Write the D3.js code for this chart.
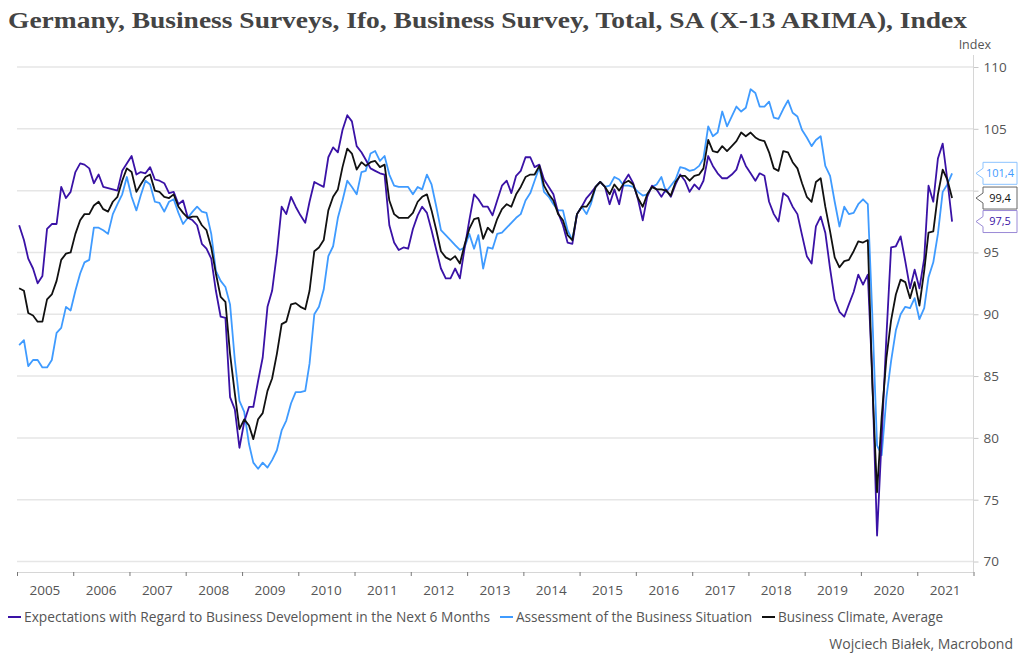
<!DOCTYPE html>
<html><head><meta charset="utf-8">
<script src="https://cdn.jsdelivr.net/npm/d3@7"></script>
<style>
body{margin:0;background:#fff;}
text{font-family:"Open Sans","Noto Sans",sans-serif;}
</style></head>
<body><svg id="c" width="1024" height="663"></svg>
<script>
// ---- data (monthly, Jan 2005 .. Aug 2021) ----
const startYear = 2005;
const seriesNames = ["Expectations with Regard to Business Development in the Next 6 Months","Assessment of the Business Situation","Business Climate, Average"];
const expectations = [
97.2,96.0,94.5,93.7,92.5,93.1,96.9,97.3,97.3,100.3,99.4,99.9,
101.5,102.2,102.1,101.8,100.6,101.3,100.3,100.2,100.1,100.0,101.6,102.2,
102.8,101.3,101.5,101.4,101.9,100.9,100.8,100.6,99.8,99.9,98.9,99.2,
97.8,97.6,97.2,95.7,95.3,94.5,91.9,89.8,89.7,83.3,82.3,79.2,
81.3,82.5,82.5,84.6,86.5,90.6,91.9,94.9,98.7,98.1,99.5,98.7,
98.0,97.4,99.1,100.7,100.5,100.3,102.7,103.5,103.1,104.9,106.1,105.6,
103.6,103.1,102.5,101.8,101.6,101.4,101.3,97.2,95.8,95.2,95.4,95.3,
96.9,98.0,98.7,98.2,96.8,95.2,93.7,92.9,92.9,93.7,92.9,95.3,
97.6,99.7,99.3,98.7,98.7,98.0,99.2,100.4,100.8,99.8,101.2,101.6,
102.7,102.7,101.9,102.1,100.9,100.3,99.7,98.2,97.2,95.8,95.7,98.1,
98.7,99.4,99.8,100.3,100.7,100.3,98.9,100.1,98.9,100.7,101.3,100.6,
99.3,97.6,99.5,100.4,100.1,99.5,100.1,99.5,100.5,101.3,100.8,99.9,
100.5,100.1,100.8,102.8,102.0,101.4,101.0,101.0,101.3,101.7,102.9,102.0,
101.4,100.8,101.4,101.2,99.1,98.1,97.5,99.8,99.5,98.7,98.1,96.4,
94.7,94.1,97.1,97.9,96.6,93.7,91.2,90.2,89.8,90.8,91.8,93.2,
92.4,93.2,85.0,72.1,80.0,88.3,95.4,95.5,96.3,94.3,92.1,93.6,
92.1,94.5,100.4,99.1,102.6,103.8,100.9,97.5];
const assessment = [
87.5,87.9,85.8,86.3,86.3,85.7,85.7,86.3,88.5,88.9,90.6,90.3,
91.9,93.3,94.2,94.4,97.0,97.0,96.8,96.5,98.1,98.9,99.7,101.1,
99.5,98.4,99.6,100.8,100.5,99.1,99.0,98.3,99.1,99.3,98.2,97.3,
97.8,98.3,98.7,98.3,98.2,96.5,93.5,92.7,92.2,90.8,86.3,83.0,
82.1,79.5,78.0,77.5,78.0,77.6,78.2,79.0,80.6,81.4,82.8,83.7,
83.7,83.8,86.0,90.0,90.6,92.0,94.7,95.5,97.8,99.2,100.8,100.3,
99.7,101.5,101.6,103.0,103.2,102.4,102.8,101.3,100.4,100.3,100.3,100.3,
99.7,100.3,100.1,101.3,100.5,98.7,96.8,96.4,96.0,95.6,95.2,95.4,
96.5,95.3,96.4,93.7,95.4,95.3,96.5,96.6,97.0,97.4,97.8,98.1,
99.2,99.8,100.8,101.9,99.9,99.5,98.9,98.4,98.4,96.8,96.0,98.1,
98.7,98.1,98.9,100.3,100.7,100.3,100.4,101.1,100.9,100.4,100.4,100.3,
99.9,99.6,99.7,100.3,100.5,101.1,99.9,100.4,100.9,101.9,101.8,101.6,
101.7,102.0,102.6,105.2,104.4,104.7,106.4,105.2,106.0,106.8,106.4,106.7,
108.2,107.9,106.8,106.8,107.2,105.9,105.8,106.6,107.3,106.3,106.0,104.9,
104.3,103.6,104.1,104.4,102.0,101.2,99.1,97.1,98.7,98.1,98.2,98.9,
99.3,98.9,90.0,79.4,78.6,83.3,86.2,88.7,90.0,90.6,90.5,91.3,
89.6,90.5,93.0,94.2,96.5,99.9,100.5,101.4];
const climate = [
92.1,91.9,90.1,89.9,89.4,89.4,91.2,91.6,92.7,94.4,94.9,95.0,
96.5,97.6,98.1,98.1,98.8,99.1,98.5,98.3,99.1,99.5,100.8,101.8,
101.5,99.9,100.5,101.1,101.3,100.0,99.9,99.5,99.4,99.7,98.7,98.2,
97.8,97.9,97.9,97.2,96.8,95.4,93.3,91.4,91.0,86.8,83.6,80.7,
81.5,81.0,79.9,81.5,82.0,83.8,84.8,86.8,89.2,89.4,90.8,90.9,
90.6,90.4,91.9,95.1,95.4,96.0,98.4,99.5,100.1,101.9,103.4,103.0,
101.7,102.3,102.0,102.3,102.4,101.9,102.1,99.2,98.1,97.8,97.8,97.8,
98.2,99.1,99.5,99.7,98.4,96.8,95.1,94.6,94.4,94.7,94.1,95.6,
96.9,97.7,97.8,96.1,97.0,96.6,97.7,98.5,98.9,98.7,99.7,100.3,
101.1,101.3,101.3,102.0,100.4,99.7,99.2,98.1,97.6,96.4,96.0,98.1,
98.7,98.7,99.2,100.3,100.7,100.3,99.7,100.5,100.0,100.6,100.8,100.5,
99.4,98.7,99.7,100.3,100.1,100.1,100.0,99.6,100.7,101.2,101.2,100.8,
101.2,101.3,101.8,104.1,103.2,103.1,103.6,103.2,103.6,104.0,104.7,104.4,
104.7,104.3,104.1,104.0,103.1,101.8,101.6,103.2,103.1,102.3,101.8,100.6,
99.5,99.1,100.7,101.0,98.7,96.7,94.6,93.8,94.3,94.4,95.1,95.9,
95.8,96.0,84.4,75.6,81.7,86.5,89.5,91.6,92.8,92.6,91.3,92.6,
90.7,93.5,96.6,96.7,99.7,101.7,100.9,99.4];
const yTicks = [70,75,80,85,90,95,100,105,110];
const hiddenYLabels = [100];   // covered by the end-value boxes in the original
const xYears = [2005,2006,2007,2008,2009,2010,2011,2012,2013,2014,2015,2016,2017,2018,2019,2020,2021];
const colors = {exp:"#3a12a6", ass:"#3f9bff", cli:"#111111"};

const svg = d3.select("#c");
const L = 17, R = 973.5, T = 67, B = 561.5;
const x = d3.scaleTime().domain([new Date(2005,0,1), new Date(2022,0,1)]).range([L, R]);
const y = d3.scaleLinear().domain([70,110]).range([B, T]);
const dateOf = i => new Date(startYear, i, 15);

// title
svg.append("text").attr("x",8).attr("y",28).text("Germany, Business Surveys, Ifo, Business Survey, Total, SA (X-13 ARIMA), Index")
  .attr("textLength",959).attr("lengthAdjust","spacingAndGlyphs")
  .style("font-family","'Liberation Serif',serif").style("font-weight","bold").style("font-size","23px").attr("fill","#444");

// grid
svg.append("g").selectAll("line").data(yTicks).join("line")
  .attr("x1",L).attr("x2",R).attr("y1",d=>y(d)).attr("y2",d=>y(d))
  .attr("stroke","#e6e6e6").attr("stroke-width",1.5);

// right axis
const ya = d3.axisRight(y).tickValues(yTicks).tickSize(5).tickPadding(5)
  .tickFormat(d=>hiddenYLabels.includes(d)?"":d);
const yg = svg.append("g").attr("transform",`translate(${R},0)`).call(ya);
yg.select(".domain").remove();
yg.append("line").attr("x1",0).attr("x2",0).attr("y1",55).attr("y2",572).attr("stroke","#d6d6d6");
yg.selectAll(".tick line").attr("stroke","#c8c8c8");
yg.selectAll(".tick text").attr("fill","#555").style("font-size","13.5px").style("font-family","'Open Sans',sans-serif");
svg.append("text").attr("x",991).attr("y",49).attr("text-anchor","end").text("Index")
  .attr("fill","#555").style("font-size","12.5px");

// x axis
const xTickDates = xYears.concat([2022]).map(yr=>new Date(yr,0,1));
const xa = d3.axisBottom(x).tickValues(xTickDates).tickSize(4).tickFormat("");
const xg = svg.append("g").attr("transform",`translate(0,572)`).call(xa);
xg.select(".domain").attr("stroke","#d6d6d6").attr("d",`M${L},0.5H${R}`);
xg.selectAll(".tick line").attr("stroke","#777");
svg.append("g").selectAll("text").data(xYears).join("text")
  .attr("x",d=>x(new Date(d,6,1))).attr("y",595).attr("text-anchor","middle")
  .text(d=>d).attr("fill","#555").style("font-size","13.5px");

// lines
const line = d3.line().x((d,i)=>x(dateOf(i))).y(d=>y(d));
const sers = [
  {v:assessment,c:colors.ass},
  {v:expectations,c:colors.exp},
  {v:climate,c:colors.cli}];
sers.forEach(s=>{
  svg.append("path").datum(s.v).attr("d",line).attr("fill","none")
    .attr("stroke",s.c).attr("stroke-width",1.8).attr("stroke-linejoin","round");
});

// end value labels
const last = [
  {v:assessment[assessment.length-1], c:colors.ass, b:"#8cc3ff"},
  {v:climate[climate.length-1], c:"#111", b:"#666"},
  {v:expectations[expectations.length-1], c:colors.exp, b:"#9a8ad6"}];
last.forEach(d=>{
  const cy = y(d.v), x0=976, x1=983, x2=1017, h=11;
  const g = svg.append("g");
  g.append("path").attr("d",`M${x0},${cy}L${x1},${cy-5}L${x1},${cy-h}L${x2},${cy-h}L${x2},${cy+h}L${x1},${cy+h}L${x1},${cy+5}Z`)
    .attr("fill","#fff").attr("stroke",d.b).attr("stroke-width",1);
  g.append("text").attr("x",(x1+x2)/2).attr("y",cy).attr("dy","0.35em").attr("text-anchor","middle")
    .text(d3.format(".1f")(d.v).replace(".",",")).attr("fill",d.c).style("font-size","11px");
});

// legend
const leg = [
  {t:seriesNames[0],c:colors.exp,x:8,w:466},
  {t:seriesNames[1],c:colors.ass,x:500,w:236},
  {t:seriesNames[2],c:colors.cli,x:762,w:165}];
leg.forEach(l=>{
  svg.append("line").attr("x1",l.x).attr("x2",l.x+13).attr("y1",617).attr("y2",617).attr("stroke",l.c).attr("stroke-width",2);
  svg.append("text").attr("x",l.x+16).attr("y",617).attr("dy","0.35em").text(l.t)
    .attr("textLength",l.w).attr("lengthAdjust","spacingAndGlyphs")
    .attr("fill","#555").style("font-size","13.7px");
});
svg.append("text").attr("x",1013).attr("y",644).attr("dy","0.35em").attr("text-anchor","end")
  .text("Wojciech Białek, Macrobond").attr("fill","#555").style("font-size","14px");
</script></body></html>
